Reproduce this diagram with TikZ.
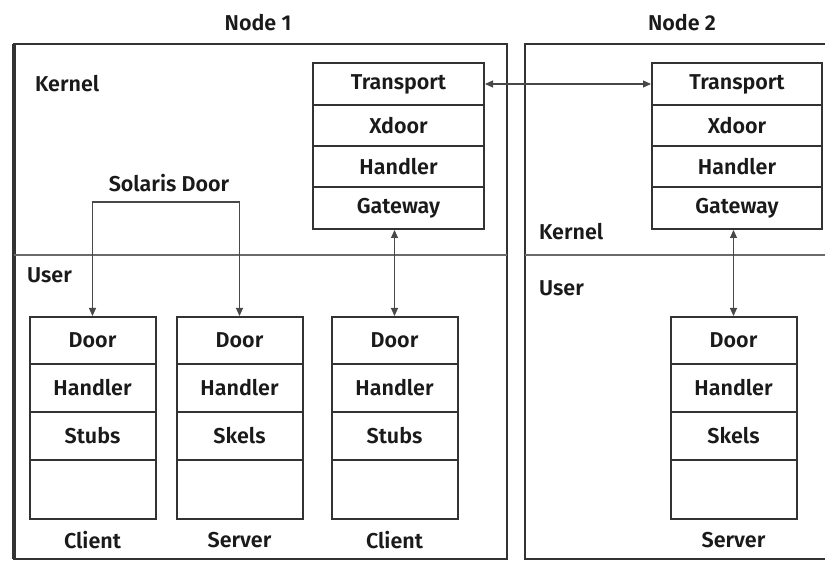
\documentclass[tikz,border=0pt]{standalone}
\usepackage{fontspec}
\setmainfont{Fira Sans SemiBold}
\usetikzlibrary{arrows.meta}
\definecolor{ink}{HTML}{1A1A1A}
\definecolor{frame}{HTML}{333333}
\definecolor{rule}{HTML}{6A6A6A}
\definecolor{wire}{HTML}{484848}
\newcommand{\labelsize}{\fontsize{21.5}{24}\selectfont}
\tikzset{
  lbl/.style={font=\labelsize, text=ink, inner sep=0},
  cell/.style={draw=frame, line width=2, inner sep=0, minimum width=#1,
               font=\labelsize, text=ink},
  box/.style={draw=frame, line width=2.4},
  divider/.style={draw=rule, line width=1.4},
  conn/.style={draw=wire, line width=1.1, {Triangle[length=8,width=7]}-{Triangle[length=8,width=7]}}
}
\begin{document}
\begin{tikzpicture}[x=1pt,y=-1pt]
  \useasboundingbox (0,0) rectangle (825,561);
  \clip (0,0) rectangle (825,561);

  % host frames and kernel/user split
  \draw[box] (14,44) rectangle (507,559);
  \draw[frame, line width=3.2] (14,44) -- (14,559);
  \draw[box] (525,44) rectangle (840,559);
  \draw[divider] (14,255) -- (507,255);
  \draw[divider] (525,255) -- (840,255);

  \node[lbl] (n1) at (258,23) {Node 1};
  \node[lbl] (n2) at (682,23) {Node 2};
  \node[lbl, anchor=west] (k1) at (35,84) {Kernel};
  \node[lbl, anchor=west] (u1) at (27,275) {User};
  \node[lbl, anchor=west] (k2) at (539,232) {Kernel};
  \node[lbl, anchor=west] (u2) at (539,288) {User};

  % kernel-side stacks
  \foreach \p/\x/\w in {a/398.5/171, b/737/170}{
    \node[cell=\w, minimum height=42] (\p-tr) at (\x,84) {Transport};
    \node[cell=\w, minimum height=41] (\p-xd) at (\x,125.5) {Xdoor};
    \node[cell=\w, minimum height=41] (\p-hd) at (\x,166.5) {Handler};
    \node[cell=\w, minimum height=42] (\p-gw) at (\x,208) {Gateway};
  }

  % user-side stacks
  \foreach \p/\x/\t/\r in {c1/92.5/Stubs/Client, s1/239.5/Skels/Server,
                           c2/394.5/Stubs/Client, s2/733.5/Skels/Server}{
    \node[cell=126, minimum height=47] (\p-door) at (\x,340.5) {Door};
    \node[cell=126, minimum height=48] (\p-hd) at (\x,388) {Handler};
    \node[cell=126, minimum height=48] (\p-st) at (\x,436) {\t};
    \node[cell=126, minimum height=59] (\p-em) at (\x,489.5) {};
    \node[lbl] (\p-role) at (\x,540) {\r};
  }

  % Solaris door between client and server
  \coordinate (sdtop) at (0,202);
  \node[lbl] (sd) at (169,183) {Solaris Door};
  \draw[conn] (c1-door.north) -- (c1-door.north |- sdtop)
              -- (s1-door.north |- sdtop) -- (s1-door.north);

  % gateway links and the inter-node transport link
  \draw[conn] (c2-door.north) -- (c2-door.north |- a-gw.south);
  \draw[conn] (s2-door.north) -- (s2-door.north |- b-gw.south);
  \draw[conn] (a-tr.east) -- (b-tr.west);
\end{tikzpicture}
\end{document}
